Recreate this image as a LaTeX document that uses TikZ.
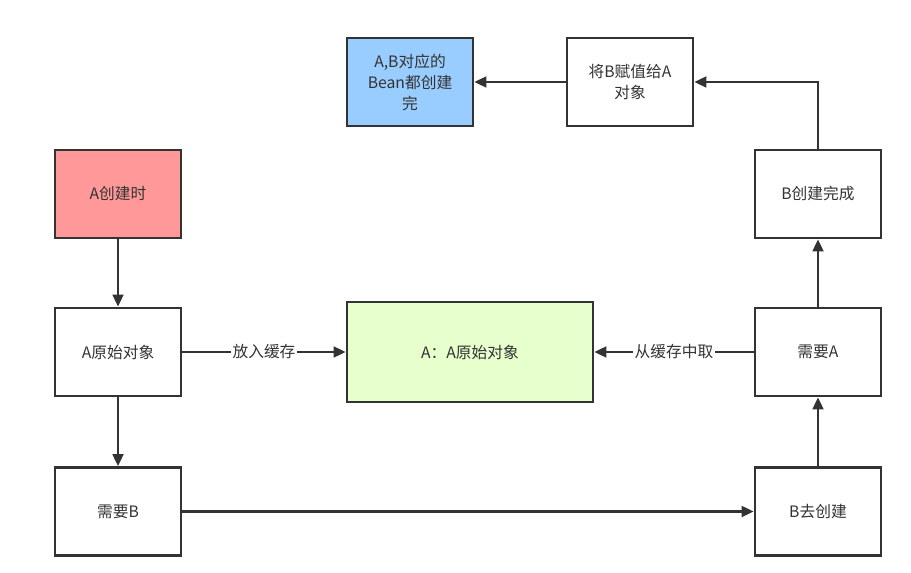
\documentclass[tikz,border=0pt]{standalone}
\usepackage{fontspec}
\setmainfont{Noto Sans CJK SC}
\usetikzlibrary{arrows.meta}
\definecolor{ln}{HTML}{333333}
\definecolor{redf}{HTML}{FF9999}
\definecolor{bluef}{HTML}{99CCFF}
\definecolor{greenf}{HTML}{E6FFCC}
\begin{document}
\begin{tikzpicture}[x=0.75pt,y=-0.75pt,
  box/.style={draw=ln,line width=2pt,fill=white,minimum width=94.5pt,minimum height=66pt,inner sep=2pt,align=center,text=ln,font=\fontsize{11.8}{15.75}\selectfont},
  conn/.style={draw=ln,line width=2pt,-{Triangle[length=9pt,width=8pt]}},
  lbl/.style={fill=white,text=ln,inner sep=1pt,font=\fontsize{11.8}{15.75}\selectfont}]
\useasboundingbox (0,0) rectangle (911,573);
\fill[white] (0,0) rectangle (911,573);
\node[box,fill=redf] (acreate) at (118,194) {A创建时};
\node[box] (araw) at (118,352) {A原始对象};
\node[box] (needb) at (118,511.5) {需要B};
\node[box,fill=greenf,minimum width=184.5pt,minimum height=75pt] (cache) at (470,352) {A：A原始对象};
\node[box,fill=bluef] (done) at (410,82) {A,B对应的\\Bean都创建\\完};
\node[box] (assign) at (630,82) {将B赋值给A\\对象};
\node[box] (bdone) at (818,194) {B创建完成};
\node[box] (needa) at (818,352) {需要A};
\node[box] (bcreate) at (818,511.5) {B去创建};
\coordinate (corner) at (818,82);
\draw[conn] (acreate) -- (araw);
\draw[conn] (araw) -- (needb);
\draw[conn] (araw) -- node[lbl] {放入缓存} (cache);
\draw[conn] (needa) -- node[lbl] {从缓存中取} (cache);
\draw[conn] (needb) -- (bcreate);
\draw[conn] (bcreate) -- (needa);
\draw[conn] (needa) -- (bdone);
\draw[conn] (bdone.north) -- (corner) -- (assign.east);
\draw[conn] (assign) -- (done);
\end{tikzpicture}
\end{document}
